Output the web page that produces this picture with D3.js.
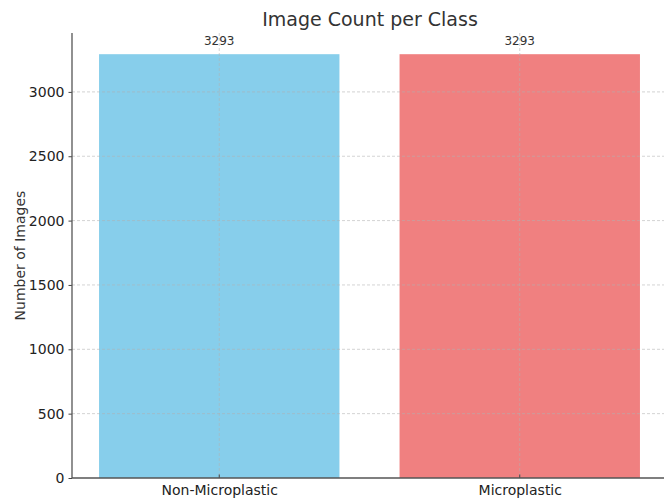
<!DOCTYPE html>
<html>
<head>
<meta charset="utf-8">
<script src="https://cdn.jsdelivr.net/npm/d3@7"></script>
<style>
  body { margin: 0; background: #fff; }
  text { font-family: "DejaVu Sans", sans-serif; fill: #333; }
</style>
</head>
<body>
<div id="chart-area"></div>
<script>
const categories = ["Non-Microplastic", "Microplastic"]
const counts = [3293, 3293]
const colors = ["#87CEEB", "#F08080"]
const yTicks = [0, 500, 1000, 1500, 2000, 2500, 3000]

const MARGIN = { LEFT: 72, RIGHT: -3, TOP: 33, BOTTOM: 22 }
const WIDTH = 664 - MARGIN.LEFT - MARGIN.RIGHT
const HEIGHT = 500 - MARGIN.TOP - MARGIN.BOTTOM

const svg = d3.select("#chart-area")
  .append("svg")
  .attr("width", 664)
  .attr("height", 500)

const g = svg.append("g")
  .attr("transform", `translate(${MARGIN.LEFT}, ${MARGIN.TOP})`)

// matplotlib-like x: bar width 0.8, margins 0.05
const x = d3.scaleLinear()
  .domain([-0.49, 1.49])
  .range([0, WIDTH])

const y = d3.scaleLinear()
  .domain([0, d3.max(counts) * 1.05])
  .range([HEIGHT, 0])

// bars
g.selectAll("rect.bar")
  .data(categories)
  .enter().append("rect")
  .attr("class", "bar")
  .attr("x", (d, i) => x(i - 0.4))
  .attr("width", (d, i) => x(i + 0.4) - x(i - 0.4))
  .attr("y", (d, i) => y(counts[i]))
  .attr("height", (d, i) => HEIGHT - y(counts[i]))
  .attr("fill", (d, i) => colors[i])

// grid on top
g.selectAll("line.hgrid")
  .data(yTicks.slice(1))
  .enter().append("line")
  .attr("x1", 0).attr("x2", WIDTH)
  .attr("y1", d => y(d)).attr("y2", d => y(d))
  .attr("stroke", "#b0b0b0")
  .attr("stroke-opacity", 0.7)
  .attr("stroke-width", 0.8)
  .attr("stroke-dasharray", "3,2")

g.selectAll("line.vgrid")
  .data(categories)
  .enter().append("line")
  .attr("x1", (d, i) => x(i)).attr("x2", (d, i) => x(i))
  .attr("y1", 0).attr("y2", HEIGHT)
  .attr("stroke", "#b0b0b0")
  .attr("stroke-opacity", 0.7)
  .attr("stroke-width", 0.8)
  .attr("stroke-dasharray", "3,2")

// y axis
const yAxisGroup = g.append("g")
  .call(d3.axisLeft(y).tickValues(yTicks).tickSize(3.5).tickPadding(4).tickFormat(d3.format("d")))
yAxisGroup.select(".domain").remove()
yAxisGroup.selectAll("line").attr("stroke", "#444")
yAxisGroup.selectAll("text").attr("font-size", "14px").style("fill", "#222")

// x axis
const xAxisGroup = g.append("g")
  .attr("transform", `translate(0,${HEIGHT})`)
  .call(d3.axisBottom(x).tickValues([0, 1]).tickSize(0).tickPadding(7).tickFormat(i => categories[i]))
xAxisGroup.select(".domain").remove()
xAxisGroup.selectAll("text").attr("font-size", "14px").style("fill", "#222")

xAxisGroup.selectAll("line.tk")
  .data([0, 1])
  .enter().append("line")
  .attr("x1", d => x(d)).attr("x2", d => x(d))
  .attr("y1", 0).attr("y2", -3.5)
  .attr("stroke", "#444")

// spines
g.append("line")
  .attr("x1", 0).attr("x2", 0).attr("y1", 0).attr("y2", HEIGHT)
  .attr("stroke", "#555").attr("stroke-width", 1.3)
g.append("line")
  .attr("x1", 0).attr("x2", WIDTH).attr("y1", HEIGHT).attr("y2", HEIGHT)
  .attr("stroke", "#555").attr("stroke-width", 1.3)

// value labels
g.selectAll("text.val")
  .data(categories)
  .enter().append("text")
  .attr("class", "val")
  .attr("x", (d, i) => x(i))
  .attr("y", (d, i) => y(counts[i]) - 9)
  .attr("text-anchor", "middle")
  .attr("font-size", "12px")
  .text((d, i) => counts[i])

// title
svg.append("text")
  .attr("x", 370)
  .attr("y", 26)
  .attr("text-anchor", "middle")
  .attr("font-size", "19px")
  .text("Image Count per Class")

// y label
svg.append("text")
  .attr("transform", "rotate(-90)")
  .attr("x", -(MARGIN.TOP + HEIGHT / 2))
  .attr("y", 25)
  .attr("text-anchor", "middle")
  .attr("font-size", "14px")
  .text("Number of Images")
</script>
</body>
</html>
